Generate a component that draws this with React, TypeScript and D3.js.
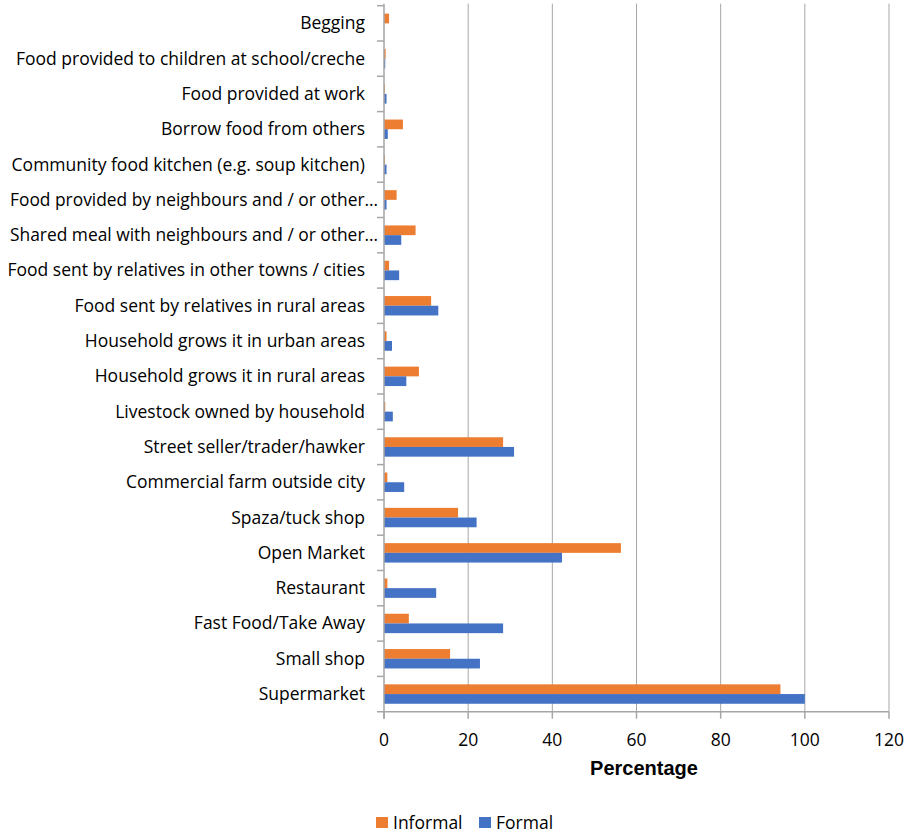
import React from "react";
import * as d3 from "d3";

const categories = [
  "Begging",
  "Food provided to children at school/creche",
  "Food provided at work",
  "Borrow food from others",
  "Community food kitchen (e.g. soup kitchen)",
  "Food provided by neighbours and / or other…",
  "Shared meal with neighbours and / or other…",
  "Food sent by relatives in other towns / cities",
  "Food sent by relatives in rural areas",
  "Household grows it in urban areas",
  "Household grows it in rural areas",
  "Livestock owned by household",
  "Street seller/trader/hawker",
  "Commercial farm outside city",
  "Spaza/tuck shop",
  "Open Market",
  "Restaurant",
  "Fast Food/Take Away",
  "Small shop",
  "Supermarket",
];

const informal = [1.2, 0.4, 0.2, 4.5, 0.2, 3.0, 7.5, 1.2, 11.2, 0.6, 8.3, 0.3, 28.3, 0.8, 17.6, 56.3, 0.8, 5.9, 15.7, 94.2];
const formal = [0, 0.3, 0.6, 0.9, 0.6, 0.6, 4.1, 3.6, 12.9, 1.9, 5.3, 2.1, 30.9, 4.8, 22.0, 42.3, 12.4, 28.3, 22.8, 100];

const xTicks = [0, 20, 40, 60, 80, 100, 120];
const seriesNames = ["Informal", "Formal"];
const seriesColors = ["#ED7D31", "#4472C4"];

export default function App() {
  const W = 913;
  const H = 834;
  const left = 384;
  const right = 889;
  const top = 5.7;
  const bottom = 711.7;

  const x = d3.scaleLinear().domain([0, 120]).range([left, right]);
  const y = d3.scaleBand<string>().domain(categories).range([top, bottom]).paddingInner(0).paddingOuter(0);
  const bw = y.bandwidth();
  const barH = bw * 0.275;
  const labelFont = "'Open Sans', sans-serif";
  const fs = 17.5;

  return (
    <svg width={W} height={H} style={{ position: "absolute", left: 0, top: 0, background: "#fff" }}>
      {xTicks.slice(1).map((t) => (
        <line key={"g" + t} x1={x(t)} x2={x(t)} y1={top - 2} y2={bottom} stroke="#a6a6a6" strokeWidth={1} />
      ))}
      {categories.map((c, i) => {
        const cy = (y(c) as number) + bw / 2;
        return (
          <g key={c}>
            <rect x={x(0)} y={cy - barH} width={x(informal[i]) - x(0)} height={barH} fill={seriesColors[0]} />
            <rect x={x(0)} y={cy} width={x(formal[i]) - x(0)} height={barH} fill={seriesColors[1]} />
          </g>
        );
      })}
      <line x1={left} x2={left} y1={top - 2} y2={bottom + 7} stroke="#a6a6a6" strokeWidth={1.5} />
      {categories.map((c) => (
        <line key={"lt" + c} x1={left - 7} x2={left} y1={y(c) as number} y2={y(c) as number} stroke="#a6a6a6" strokeWidth={1.5} />
      ))}
      <line x1={left - 7} x2={right} y1={bottom} y2={bottom} stroke="#a6a6a6" strokeWidth={1.5} />
      {xTicks.map((t) => (
        <g key={"xt" + t}>
          <line x1={x(t)} x2={x(t)} y1={bottom} y2={bottom + 7} stroke="#a6a6a6" strokeWidth={1.5} />
          <text x={x(t)} y={746} textAnchor="middle" fontFamily={labelFont} fontSize={fs} fill="#000">
            {t}
          </text>
        </g>
      ))}
      {categories.map((c) => {
        const truncated = c.endsWith("…");
        return (
          <text
            key={"lb" + c}
            x={truncated ? 378 : 365}
            y={(y(c) as number) + bw / 2 + 6}
            textAnchor="end"
            fontFamily={labelFont}
            fontSize={fs}
            fill="#000"
            {...(truncated ? { textLength: 368, lengthAdjust: "spacingAndGlyphs" } : {})}
          >
            {c}
          </text>
        );
      })}
      <text x={644} y={775} textAnchor="middle" fontFamily="'Liberation Sans', Arial, sans-serif" fontWeight="bold" fontSize={20} fill="#000">
        Percentage
      </text>
      {seriesNames.map((s, i) => {
        const lx = i === 0 ? 376 : 479;
        return (
          <g key={s}>
            <rect x={lx} y={817} width={12} height={11} fill={seriesColors[i]} />
            <text x={lx + 17} y={829} fontFamily={labelFont} fontSize={fs} fill="#000">
              {s}
            </text>
          </g>
        );
      })}
    </svg>
  );
}
